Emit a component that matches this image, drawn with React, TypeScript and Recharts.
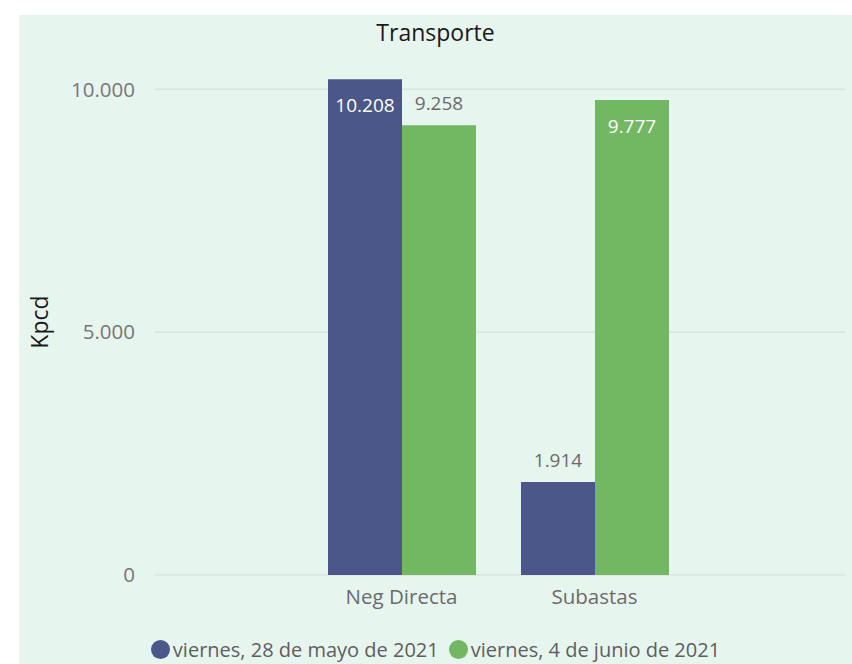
import React from "react"
import { BarChart, Bar, XAxis, YAxis, CartesianGrid, Legend, LabelList } from "recharts"

const categories = ["Neg Directa", "Subastas"]
const mayo28 = [10208, 1914]
const junio4 = [9258, 9777]
const seriesNames = ["viernes, 28 de mayo de 2021", "viernes, 4 de junio de 2021"]
const yTicks = [0, 5000, 10000]

const BLUE = "#4A5788"
const GREEN = "#72B762"
const BG = "#E7F5EF"
const FONT = "'Open Sans', 'Noto Sans', sans-serif"

const data = categories.map((name, i) => ({ name, a: mayo28[i], b: junio4[i] }))

const fmt = (n: number) => String(n).replace(/\B(?=(\d{3})+(?!\d))/g, ".")

// Power BI style: label inside the top of tall bars, above the rest
const ValueLabel = (props: any) => {
  const { x, y, width, value } = props
  const inside = value > 9500
  return (
    <text
      x={x + width / 2}
      y={inside ? y + 26 : y - 22}
      textAnchor="middle"
      dominantBaseline="central"
      fill={inside ? "#FFFFFF" : "#6B6B6B"}
      fontSize={19}
      fontFamily={FONT}
    >
      {fmt(value)}
    </text>
  )
}

const LegendContent = () => (
  <div style={{ display: "flex", justifyContent: "center", alignItems: "center", height: 30, fontFamily: FONT, fontSize: 20, color: "#5E5E5E" }}>
    {seriesNames.map((s, i) => (
      <div key={s} style={{ display: "flex", alignItems: "center", marginRight: i === 0 ? 10 : 0 }}>
        <span style={{ width: 19, height: 19, borderRadius: 10, background: i === 0 ? BLUE : GREEN, display: "inline-block", marginRight: 3 }} />
        <span>{s}</span>
      </div>
    ))}
  </div>
)

export default function App() {
  return (
    <div style={{ position: "absolute", left: 0, top: 0, width: 852, height: 664, background: "#fff", overflow: "hidden" }}>
      <div style={{ position: "absolute", left: 19, top: 15, right: 0, bottom: 0, background: BG }} />
      <div style={{ position: "absolute", left: 19, right: 0, top: 16, textAlign: "center", fontFamily: FONT, fontSize: 23, color: "#1A1A1A" }}>
        Transporte
      </div>
      <BarChart
        width={852}
        height={664}
        data={data}
        margin={{ top: 65, right: 7, bottom: 0, left: 0 }}
        barGap={0}
        barCategoryGap={23}
        style={{ position: "absolute", left: 0, top: 0 }}
      >
        <CartesianGrid vertical={false} horizontalValues={yTicks} stroke="#DCE3DF" strokeWidth={1.5} />
        <XAxis
          dataKey="name"
          padding={{ left: 150, right: 154 }}
          axisLine={false}
          tickLine={false}
          tickSize={0}
          tickMargin={14}
          height={59}
          tick={{ fill: "#6B6B6B", fontSize: 20.5, fontFamily: FONT }}
        />
        <YAxis
          width={155}
          domain={[0, 10500]}
          ticks={yTicks}
          tickFormatter={fmt}
          axisLine={false}
          tickLine={false}
          tickSize={0}
          tickMargin={20}
          tick={{ fill: "#777", fontSize: 20.5, fontFamily: FONT }}
          label={{
            content: () => (
              <text x={39} y={322} transform="rotate(-90, 39, 322)" textAnchor="middle" dominantBaseline="central" fill="#1A1A1A" fontSize={23} fontFamily={FONT}>
                Kpcd
              </text>
            ),
          }}
        />
        <Legend verticalAlign="bottom" height={30} content={<LegendContent />} wrapperStyle={{ left: 19, width: 833, bottom: 0 }} />
        <Bar dataKey="a" name={seriesNames[0]} fill={BLUE} isAnimationActive={false}>
          <LabelList dataKey="a" content={<ValueLabel />} />
        </Bar>
        <Bar dataKey="b" name={seriesNames[1]} fill={GREEN} isAnimationActive={false}>
          <LabelList dataKey="b" content={<ValueLabel />} />
        </Bar>
      </BarChart>
    </div>
  )
}
